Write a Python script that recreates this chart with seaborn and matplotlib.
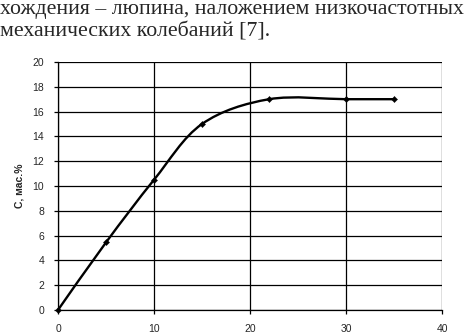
import numpy as np
import matplotlib
matplotlib.use("Agg")
import matplotlib.pyplot as plt
import seaborn as sns
from matplotlib.path import Path
from matplotlib.patches import PathPatch

# data
x_vals = [0, 5, 10, 15, 22, 30, 35]
c_vals = [0, 5.45, 10.5, 15.0, 17.0, 17.0, 17.0]
x_ticks = [0, 10, 20, 30, 40]
y_ticks = [0, 2, 4, 6, 8, 10, 12, 14, 16, 18, 20]
y_label = "С, мас.%"
text_lines = ["хождения – люпина, наложением низкочастотных",
              "механических колебаний [7]."]

sns.set_style("white")
plt.rcParams["font.family"] = ["Liberation Sans", "DejaVu Sans"]

fig = plt.figure(figsize=(4.65, 3.33), dpi=100)
ax = fig.add_axes([58 / 465, 1 - 310 / 333, (442 - 58) / 465, (310 - 62) / 333])
ax.set_xlim(0, 40)
ax.set_ylim(0, 20)

# smoothed line through the points (spreadsheet-style Bezier segments)
P = np.column_stack([x_vals, c_vals]).astype(float)
n = len(P)
verts = [P[0]]
codes = [Path.MOVETO]
for i in range(n - 1):
    p0 = P[max(i - 1, 0)]
    p3 = P[min(i + 2, n - 1)]
    verts += [P[i] + (P[i + 1] - p0) / 6, P[i + 1] - (p3 - P[i]) / 6, P[i + 1]]
    codes += [Path.CURVE4] * 3
ax.add_patch(PathPatch(Path(verts, codes), facecolor="none", edgecolor="black",
                       lw=1.7, zorder=3, clip_on=False))

sns.scatterplot(x=x_vals, y=c_vals, marker="D", s=10, color="black",
                edgecolor="black", ax=ax, zorder=4, clip_on=False)

ax.set_xticks(x_ticks)
ax.set_yticks(y_ticks)
ax.grid(True, color="black", lw=0.9)
for s in ["top", "right"]:
    ax.spines[s].set_visible(False)
for s in ["left", "bottom"]:
    ax.spines[s].set_color("black")
    ax.spines[s].set_linewidth(0.9)
ax.tick_params(axis="both", direction="out", length=3, width=0.9, color="black",
               labelsize=7.5, pad=7, left=True, bottom=True)
ax.set_ylabel(y_label, fontsize=7.5, fontweight="bold", labelpad=6)
ax.set_xlabel("")

fig.text(0.0, 1 - 14 / 333, text_lines[0], family="Liberation Serif",
         fontsize=15.7, va="baseline", ha="left")
fig.text(0.0, 1 - 37 / 333, text_lines[1], family="Liberation Serif",
         fontsize=15.7, va="baseline", ha="left")

fig.savefig("out.png", dpi=100)
